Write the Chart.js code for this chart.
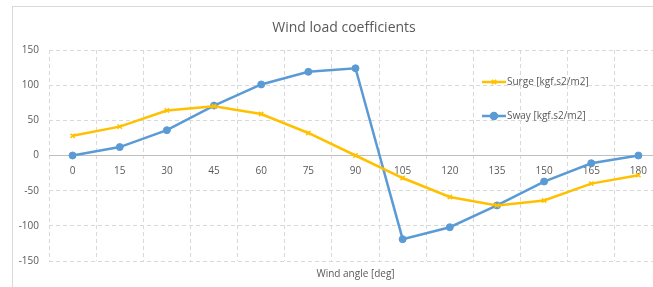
<!DOCTYPE html>
<html>
<head>
<meta charset="utf-8">
<script src="https://cdn.jsdelivr.net/npm/chart.js@4/dist/chart.umd.min.js"></script>
<style>
    html, body { margin: 0; padding: 0; background: #fff; overflow: hidden; width: 653px; height: 287px; }
    .frame { position: absolute; left: 12px; top: 6px; width: 680px; height: 300px; border: 1px solid #d9d9d9; }
    .frame canvas { position: absolute; left: 0; top: 0; }
</style>
</head>
<body>
<div class="frame"><canvas id="wind-chart" width="670" height="285"></canvas></div>
<script>
const angles = ['0', '15', '30', '45', '60', '75', '90', '105', '120', '135', '150', '165', '180'];
const surge = [28, 41, 64, 70, 59, 32, 0, -32, -59, -71, -64, -40, -28];
const sway = [0, 12, 36, 71, 101, 119, 124, -119, -102, -71, -37, -11, 0];
const yTicks = [-150, -100, -50, 0, 50, 100, 150];
const chartTitle = 'Wind load coefficients';

const textColor = '#595959';
const gridColor = '#d9d9d9';
const fontFamily = "'Open Sans', 'Liberation Sans', sans-serif";

// title is centred on the whole frame, not on the canvas (the plot runs off the right edge)
const frameTitle = {
    id: 'frameTitle',
    afterDraw(chart) {
        const { ctx } = chart;
        ctx.save();
        ctx.fillStyle = textColor;
        ctx.font = `14px ${fontFamily}`;
        ctx.textAlign = 'center';
        ctx.textBaseline = 'middle';
        ctx.fillText(chartTitle, 331, 21);
        ctx.restore();
    },
};

// legend sits inside the plot area, drawn over the grid like in the spreadsheet
const insideLegend = {
    id: 'insideLegend',
    afterDatasetsDraw(chart) {
        const { ctx, chartArea } = chart;
        const x0 = chartArea.left + 433;
        const rows = [chartArea.top + 32, chartArea.top + 66];
        chart.data.datasets.forEach((ds, i) => {
            const y = rows[i];
            ctx.save();
            ctx.strokeStyle = ds.borderColor;
            ctx.lineWidth = 2.5;
            ctx.beginPath();
            ctx.moveTo(x0, y);
            ctx.lineTo(x0 + 24, y);
            ctx.stroke();
            ctx.fillStyle = ds.backgroundColor;
            ctx.lineWidth = 1.5;
            Chart.helpers.drawPoint(ctx, {
                pointStyle: ds.pointStyle,
                radius: ds.pointRadius,
                borderWidth: 1.5,
                rotation: 0,
            }, x0 + 12, y);
            ctx.fillStyle = textColor;
            ctx.font = `10px ${fontFamily}`;
            ctx.textBaseline = 'middle';
            ctx.textAlign = 'left';
            ctx.fillText(ds.label, x0 + 25, y);
            ctx.restore();
        });
    },
};

new Chart(document.getElementById('wind-chart'), {
    type: 'line',
    data: {
        labels: angles,
        datasets: [{
            label: 'Surge [kgf.s2/m2]',
            data: surge,
            borderColor: '#ffc000',
            backgroundColor: '#ffc000',
            borderWidth: 2.5,
            tension: 0,
            pointStyle: 'crossRot',
            pointRadius: 3,
            pointBorderWidth: 1.5,
        }, {
            label: 'Sway [kgf.s2/m2]',
            data: sway,
            borderColor: '#5b9bd5',
            backgroundColor: '#5b9bd5',
            borderWidth: 2.5,
            tension: 0,
            pointStyle: 'circle',
            pointRadius: 3.5,
            pointBorderWidth: 1,
        }],
    },
    options: {
        responsive: false,
        animation: false,
        layout: { padding: { left: 0, right: 21, top: 43, bottom: 0 } },
        plugins: {
            legend: { display: false },
            tooltip: { enabled: false },
            title: { display: false },
            subtitle: {
                display: true,
                position: 'bottom',
                fullSize: false,
                text: 'Wind angle [deg]',
                color: textColor,
                font: { family: fontFamily, size: 10, weight: 'normal' },
                padding: { top: 7, bottom: 12 },
            },
        },
        scales: {
            x: {
                position: { y: 0 },
                offset: true,
                grid: {
                    offset: true,
                    color: gridColor,
                    drawTicks: false,
                },
                border: {
                    display: true,
                    color: '#bfbfbf',
                    width: 1,
                    dash: ctx => ctx.type === 'tick' ? [4, 3] : [],
                },
                ticks: {
                    color: textColor,
                    font: { family: fontFamily, size: 10 },
                    padding: 10,
                    maxRotation: 0,
                    autoSkip: false,
                },
            },
            y: {
                min: -150,
                max: 150,
                afterBuildTicks: scale => {
                    scale.ticks = yTicks.map(v => ({ value: v }));
                },
                afterFit: scale => {
                    scale.width = 36;
                },
                grid: {
                    color: gridColor,
                    drawTicks: false,
                },
                border: {
                    display: false,
                    dash: [4, 3],
                },
                ticks: {
                    color: textColor,
                    font: { family: fontFamily, size: 10 },
                    padding: 10,
                },
            },
        },
    },
    plugins: [insideLegend, frameTitle],
});
</script>
</body>
</html>
